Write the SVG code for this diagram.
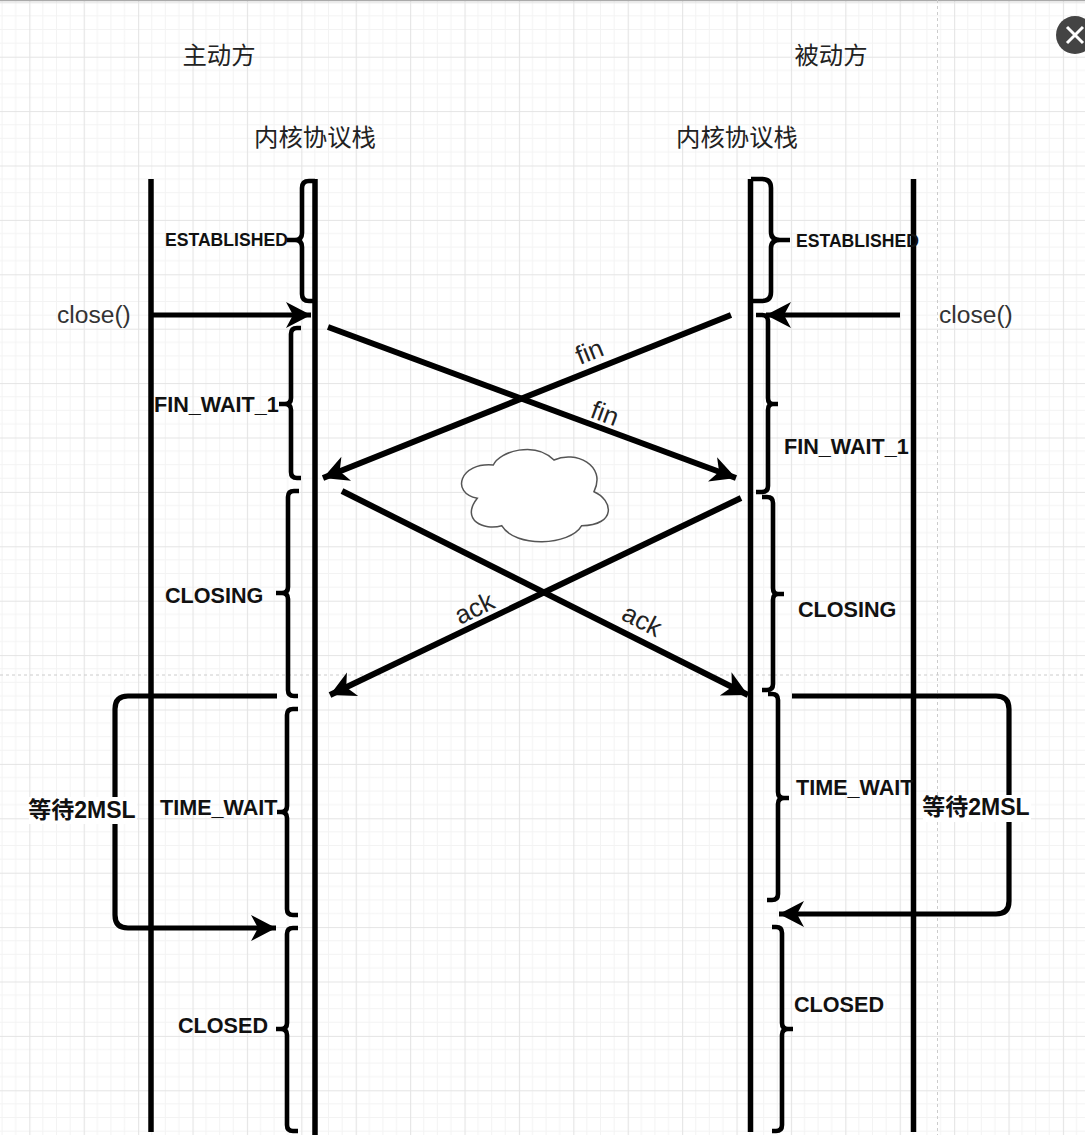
<svg xmlns="http://www.w3.org/2000/svg" width="1085" height="1135" viewBox="0 0 1085 1135">
<style>
.l{stroke:#000;stroke-width:5.5;fill:none}
.b{stroke:#000;stroke-width:4.6;fill:none}
.c{stroke:#000;stroke-width:5.2;fill:none;marker-end:url(#a)}
.x{stroke-width:6}
text{font-family:"Liberation Sans","Noto Sans CJK SC",sans-serif;fill:#1a1a1a}
.t{font-size:24.6px;fill:#333}
.d{font-size:26px;fill:#222}
.h{font-size:24.4px;fill:#222;text-anchor:middle}
.s{font-size:21.6px;font-weight:bold;fill:#111}
.e{font-size:17.6px;font-weight:bold;fill:#111}
.w{font-size:23px;font-weight:bold;fill:#111;text-anchor:middle}
</style>
<defs>
<pattern id="g" x="-25.1" y="2.3" width="54.4" height="54.4" patternUnits="userSpaceOnUse">
<path d="M13.6 0V54.4M27.2 0V54.4M40.8 0V54.4M0 13.6H54.4M0 27.2H54.4M0 40.8H54.4" stroke="#f3f3f3" stroke-width="1" fill="none"/>
<path d="M0.5 0V54.4M0 0.5H54.4" stroke="#e4e4e4" stroke-width="1.2" fill="none"/>
</pattern>
<marker id="a" markerUnits="userSpaceOnUse" markerWidth="30" markerHeight="30" refX="26" refY="15" orient="auto">
<path d="M1 2L26 15L1 28L8 15Z" fill="#000"/>
</marker>
</defs>
<rect width="1085" height="1135" fill="#fff"/>
<rect width="1085" height="1135" fill="url(#g)"/>
<path d="M0 0.5H1085" stroke="#aaa" stroke-width="1.5"/>
<path d="M937.5 0V1135M0 675H1085" stroke="#ccc" stroke-width="1" stroke-dasharray="3 3" fill="none"/>

<g id="close-button"><circle cx="1075" cy="35" r="19" fill="#444"/><path d="M1067 27L1083 43M1083 27L1067 43" stroke="#fff" stroke-width="3" fill="none"/></g>

<g id="lifelines">
<path class="l" d="M151 179V1132"/>
<path class="l" d="M315 179V1135"/>
<path class="l" d="M750.500 179V1132"/>
<path class="l" d="M913.500 179V1132"/>
</g>

<g id="connectors">
<path class="c" d="M152 315H311"/>
<path class="c" d="M900 315H766"/>
<path class="c x" d="M328 327L736 478"/>
<path class="c x" d="M731 315L323 478"/>
<path class="c x" d="M342 491L748 695"/>
<path class="c x" d="M741 498L330 695"/>
<path class="c" d="M277 696H128Q115 696 115 709V915Q115 928 128 928H276"/>
<path class="c" d="M792 696H996Q1009 696 1009 709V901Q1009 914 996 914H779"/>
</g>

<g id="left-braces">
<path class="b" d="M315 181H309Q302 181 302 188V233Q302 240 295 240H287M295 240Q302 240 302 247V294Q302 301 309 301H315"/>
<path class="b" d="M301 328H297Q291 328 291 334V398Q291 404 285 404H279M285 404Q291 404 291 410V472Q291 478 297 478H301"/>
<path class="b" d="M299 491H294Q288 491 288 497V587Q288 593 282 593H276M282 593Q288 593 288 599V690Q288 696 294 696H298"/>
<path class="b" d="M298 709H293Q287 709 287 715V806Q287 812 281 812H277M281 812Q287 812 287 818V909Q287 915 293 915H298"/>
<path class="b" d="M298 928H293Q287 928 287 934V1023Q287 1029 281 1029H276M281 1029Q287 1029 287 1035V1125Q287 1131 293 1131H298"/>
</g>
<g id="right-braces">
<path class="b" d="M751 179H762Q771 179 771 188V232Q771 240 780 240H790M780 240Q771 240 771 248V292Q771 301 762 301H751"/>
<path class="b" d="M756 315H762Q768 315 768 321V398Q768 404 773 404H778M773 404Q768 404 768 410V486Q768 492 762 492H756"/>
<path class="b" d="M762 497H767Q773 497 773 503V588Q773 594 778 594H784M778 594Q773 594 773 600V684Q773 690 767 690H762"/>
<path class="b" d="M768 694H772Q778 694 778 700V792Q778 798 784 798H789M784 798Q778 798 778 804V894Q778 900 772 900H767"/>
<path class="b" d="M772 927H776Q782 927 782 933V1023Q782 1029 788 1029H793M788 1029Q782 1029 782 1035V1125Q782 1131 776 1131H772"/>
</g>

<g id="cloud">
<path d="M493.300 465C500 451 535 441 554 460C575 450 607 465 594 491.700C613 500 617 525 581.700 525.700C570 546 515 548 501.700 525.700C484 531 460 520 477.300 498.300C450 493 460 462 493.300 465Z" fill="#fff" stroke="#555" stroke-width="1.500"/>
</g>

<g id="labels">
<text class="h" x="219" y="64">主动方</text>
<text class="h" x="831" y="64">被动方</text>
<text class="h" x="315" y="146">内核协议栈</text>
<text class="h" x="737" y="146">内核协议栈</text>
<text class="t" x="57" y="323">close()</text>
<text class="t" x="939" y="323">close()</text>
<text class="e" x="165" y="246">ESTABLISHED</text>
<text class="e" x="796" y="247">ESTABLISHED</text>
<text class="s" x="154" y="412">FIN_WAIT_1</text>
<text class="s" x="784" y="454">FIN_WAIT_1</text>
<text class="s" x="165" y="603">CLOSING</text>
<text class="s" x="798" y="617">CLOSING</text>
<text class="s" x="160" y="815">TIME_WAIT</text>
<text class="s" x="796" y="795">TIME_WAIT</text>
<text class="s" x="178" y="1033">CLOSED</text>
<text class="s" x="794" y="1012">CLOSED</text>
<rect x="29" y="797" width="108" height="27" fill="#fff"/>
<text class="w" x="82" y="818">等待2MSL</text>
<rect x="923" y="795" width="108" height="27" fill="#fff"/>
<text class="w" x="976" y="815">等待2MSL</text>
<text class="d" transform="translate(580 365) rotate(-22)">fin</text>
<text class="d" transform="translate(589 417) rotate(20)">fin</text>
<text class="d" transform="translate(460 625) rotate(-26)">ack</text>
<text class="d" transform="translate(620 619) rotate(27)">ack</text>
</g>
</svg>
